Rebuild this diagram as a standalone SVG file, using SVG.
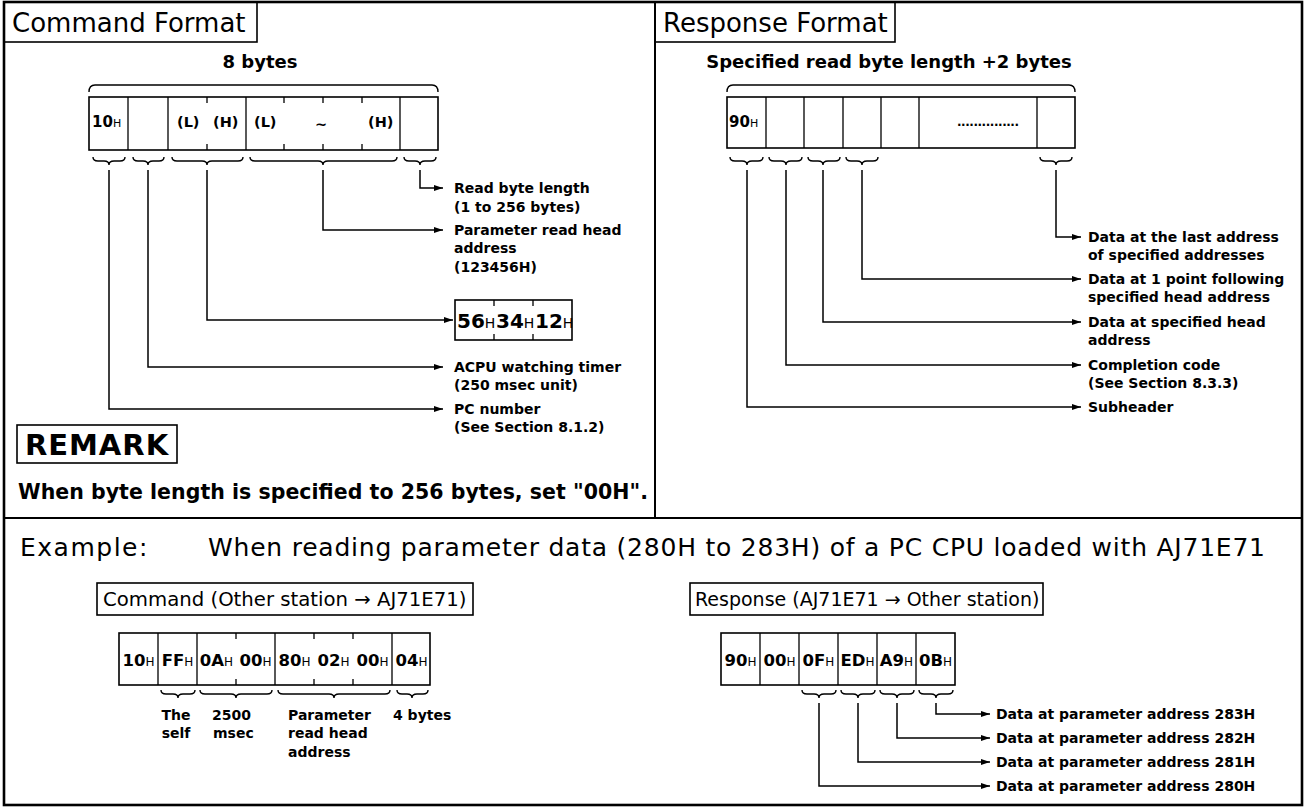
<svg xmlns="http://www.w3.org/2000/svg" width="1305" height="810" viewBox="0 0 1305 810">
<style>
text{font-family:"DejaVu Sans","Liberation Sans",sans-serif;fill:#000}
.title{font-size:26px}
.head{font-size:18px;font-weight:bold}
.lbl{font-size:14px;font-weight:bold}
.cell{font-size:15px;font-weight:bold}
.xcell{font-size:16.5px;font-weight:bold}
.par{font-size:14.5px;font-weight:bold}
.h{font-size:11px;font-weight:normal}
.xh{font-size:12px;font-weight:normal}
.big{font-size:20px;font-weight:bold}
.bh{font-size:14px;font-weight:normal}
.frame{fill:none;stroke:#000;stroke-width:1.6}
.tick{stroke:#000;stroke-width:1.3}
.brace{fill:none;stroke:#000;stroke-width:1.4}
.conn{fill:none;stroke:#000;stroke-width:1.5;marker-end:url(#ah)}
</style>
<defs>
<marker id="ah" markerUnits="userSpaceOnUse" markerWidth="9" markerHeight="6" refX="9" refY="3" orient="auto"><path d="M0,0 L9,3 L0,6 z" fill="#000"/></marker>
</defs>
<rect x="0" y="0" width="1305" height="810" fill="#fff"/>

<g id="frame">
<rect x="4" y="2" width="1298" height="803" fill="none" stroke="#000" stroke-width="2.6"/>
<line x1="655" y1="2" x2="655" y2="518" stroke="#000" stroke-width="2"/>
<line x1="4" y1="518" x2="1302" y2="518" stroke="#000" stroke-width="2"/>
</g>

<g id="command-format-title">
<rect x="4" y="2" width="253" height="40" class="frame" stroke-width="2"/>
<text x="12" y="32" class="title">Command Format</text>
</g>

<g id="command-bytes">
<text x="260" y="68" class="head" text-anchor="middle">8 bytes</text>
<path d="M89,92 Q89,85 95,85 H432 Q438,85 438,92" class="brace"/>
<rect x="89" y="97" width="349" height="53" class="frame"/>
<line x1="128" y1="97" x2="128" y2="150" class="tick"/>
<line x1="168" y1="97" x2="168" y2="150" class="tick"/>
<line x1="246" y1="97" x2="246" y2="150" class="tick"/>
<line x1="400" y1="97" x2="400" y2="150" class="tick"/>
<path d="M207,97 v6 M207,150 v-6 M284,97 v6 M284,150 v-6 M323,97 v6 M323,150 v-6 M362,97 v6 M362,150 v-6" class="tick"/>
<text x="92" y="127" class="cell">10<tspan class="h">H</tspan></text>
<text x="177" y="127" class="par">(L)</text>
<text x="213" y="127" class="par">(H)</text>
<text x="254" y="127" class="par">(L)</text>
<text x="321" y="129" class="par" text-anchor="middle">~</text>
<text x="368" y="127" class="par">(H)</text>
<path d="M93,157 Q93,161 98,161 H104 Q109,161 109,165 Q109,161 114,161 H120 Q125,161 125,157" class="brace"/>
<path d="M133,157 Q133,161 138,161 H143 Q148,161 148,165 Q148,161 153,161 H159 Q164,161 164,157" class="brace"/>
<path d="M172,157 Q172,161 177,161 H202 Q207,161 207,165 Q207,161 212,161 H238 Q243,161 243,157" class="brace"/>
<path d="M250,157 Q250,161 255,161 H318 Q323,161 323,165 Q323,161 328,161 H392 Q397,161 397,157" class="brace"/>
<path d="M404,157 Q404,161 409,161 H415 Q420,161 420,165 Q420,161 425,161 H431 Q436,161 436,157" class="brace"/>
</g>

<g id="command-labels">
<text x="454" y="193" class="lbl">Read byte length</text>
<text x="454" y="212" class="lbl">(1 to 256 bytes)</text>
<text x="454" y="235" class="lbl">Parameter read head</text>
<text x="454" y="253" class="lbl">address</text>
<text x="454" y="272" class="lbl">(123456H)</text>
<text x="454" y="372" class="lbl">ACPU watching timer</text>
<text x="454" y="390" class="lbl">(250 msec unit)</text>
<text x="454" y="414" class="lbl">PC number</text>
<text x="454" y="432" class="lbl">(See Section 8.1.2)</text>
</g>

<g id="address-bytes">
<rect x="455" y="300" width="117" height="40" class="frame"/>
<path d="M494,300 v6 M494,340 v-6 M533,300 v6 M533,340 v-6" class="tick"/>
<text x="457" y="328" class="big">56<tspan class="bh">H</tspan></text>
<text x="496" y="328" class="big">34<tspan class="bh">H</tspan></text>
<text x="535" y="328" class="big">12<tspan class="bh">H</tspan></text>
</g>

<g id="remark">
<rect x="17" y="425" width="160" height="38" class="frame" stroke-width="2"/>
<text x="97" y="455" text-anchor="middle" style="font-size:29px;font-weight:bold" letter-spacing="1">REMARK</text>
<text x="18" y="499" style="font-size:20.5px;font-weight:bold" textLength="630" lengthAdjust="spacing">When byte length is specified to 256 bytes, set "00H".</text>
</g>

<g id="response-format-title">
<rect x="655" y="2" width="240" height="40" class="frame" stroke-width="2"/>
<text x="663" y="32" class="title">Response Format</text>
</g>

<g id="response-bytes">
<text x="889" y="68" class="head" text-anchor="middle">Specified read byte length +2 bytes</text>
<path d="M727,92 Q727,85 733,85 H1069 Q1075,85 1075,92" class="brace"/>
<rect x="727" y="97" width="348" height="51" class="frame"/>
<path d="M766,97 V148 M804,97 V148 M843,97 V148 M881,97 V148 M919,97 V148 M1037,97 V148" class="tick"/>
<text x="729" y="127" class="cell">90<tspan class="h">H</tspan></text>
<text x="957" y="126" style="font-size:12px;font-weight:bold" textLength="62" lengthAdjust="spacing">...............</text>
<path d="M730,157 Q730,161 735,161 H742 Q747,161 747,165 Q747,161 752,161 H758 Q763,161 763,157" class="brace"/>
<path d="M769,157 Q769,161 774,161 H781 Q786,161 786,165 Q786,161 791,161 H797 Q802,161 802,157" class="brace"/>
<path d="M808,157 Q808,161 813,161 H818 Q823,161 823,165 Q823,161 828,161 H835 Q840,161 840,157" class="brace"/>
<path d="M846,157 Q846,161 851,161 H857 Q862,161 862,165 Q862,161 867,161 H873 Q878,161 878,157" class="brace"/>
<path d="M1040,157 Q1040,161 1045,161 H1051 Q1056,161 1056,165 Q1056,161 1061,161 H1067 Q1072,161 1072,157" class="brace"/>
</g>

<g id="response-labels">
<text x="1088" y="242" class="lbl">Data at the last address</text>
<text x="1088" y="260" class="lbl">of specified addresses</text>
<text x="1088" y="284" class="lbl">Data at 1 point following</text>
<text x="1088" y="302" class="lbl">specified head address</text>
<text x="1088" y="327" class="lbl">Data at specified head</text>
<text x="1088" y="345" class="lbl">address</text>
<text x="1088" y="370" class="lbl">Completion code</text>
<text x="1088" y="388" class="lbl">(See Section 8.3.3)</text>
<text x="1088" y="412" class="lbl">Subheader</text>
</g>

<g id="example-title">
<text x="20" y="556" style="font-size:25px" letter-spacing="1.5">Example:</text>
<text x="208" y="556" style="font-size:25px" textLength="1057" lengthAdjust="spacing">When reading parameter data (280H to 283H) of a PC CPU loaded with AJ71E71</text>
</g>

<g id="example-command">
<rect x="97" y="583" width="376" height="32" class="frame"/>
<text x="103" y="606" style="font-size:19.7px">Command (Other station → AJ71E71)</text>
<rect x="119" y="633" width="311" height="52" class="frame"/>
<path d="M158,633 V685 M197,633 V685 M275,633 V685 M392,633 V685" class="tick"/>
<path d="M236,633 v6 M236,685 v-6 M314,633 v6 M314,685 v-6 M353,633 v6 M353,685 v-6" class="tick"/>
<text y="666" class="xcell" text-anchor="middle"><tspan x="138.5">10<tspan class="xh">H</tspan></tspan><tspan x="177.5">FF<tspan class="xh">H</tspan></tspan><tspan x="216.5">0A<tspan class="xh">H</tspan></tspan><tspan x="255.5">00<tspan class="xh">H</tspan></tspan><tspan x="294.5">80<tspan class="xh">H</tspan></tspan><tspan x="333.5">02<tspan class="xh">H</tspan></tspan><tspan x="372.5">00<tspan class="xh">H</tspan></tspan><tspan x="411.5">04<tspan class="xh">H</tspan></tspan></text>
<path d="M161,690 Q161,694 166,694 H173 Q178,694 178,698 Q178,694 183,694 H190 Q195,694 195,690" class="brace"/>
<path d="M200,690 Q200,694 205,694 H231 Q236,694 236,698 Q236,694 241,694 H267 Q272,694 272,690" class="brace"/>
<path d="M278,690 Q278,694 283,694 H329 Q334,694 334,698 Q334,694 339,694 H385 Q390,694 390,690" class="brace"/>
<path d="M397,690 Q397,694 402,694 H407 Q412,694 412,698 Q412,694 417,694 H423 Q428,694 428,690" class="brace"/>
<text x="176" y="720" class="lbl" text-anchor="middle">The</text>
<text x="176" y="738" class="lbl" text-anchor="middle">self</text>
<text x="212" y="720" class="lbl">2500</text>
<text x="213" y="738" class="lbl">msec</text>
<text x="288" y="720" class="lbl">Parameter</text>
<text x="288" y="738" class="lbl">read head</text>
<text x="288" y="757" class="lbl">address</text>
<text x="393" y="720" class="lbl">4 bytes</text>
</g>

<g id="example-response">
<rect x="690" y="583" width="353" height="32" class="frame"/>
<text x="695" y="606" style="font-size:19px">Response (AJ71E71 → Other station)</text>
<rect x="721" y="633" width="234" height="52" class="frame"/>
<path d="M760,633 V685 M799,633 V685 M838,633 V685 M877,633 V685 M916,633 V685" class="tick"/>
<text y="666" class="xcell" text-anchor="middle"><tspan x="740.5">90<tspan class="xh">H</tspan></tspan><tspan x="779.5">00<tspan class="xh">H</tspan></tspan><tspan x="818.5">0F<tspan class="xh">H</tspan></tspan><tspan x="857.5">ED<tspan class="xh">H</tspan></tspan><tspan x="896.5">A9<tspan class="xh">H</tspan></tspan><tspan x="935.5">0B<tspan class="xh">H</tspan></tspan></text>
<path d="M802,690 Q802,694 807,694 H814 Q819,694 819,698 Q819,694 824,694 H831 Q836,694 836,690" class="brace"/>
<path d="M841,690 Q841,694 846,694 H853 Q858,694 858,698 Q858,694 863,694 H870 Q875,694 875,690" class="brace"/>
<path d="M880,690 Q880,694 885,694 H892 Q897,694 897,698 Q897,694 902,694 H909 Q914,694 914,690" class="brace"/>
<path d="M919,690 Q919,694 924,694 H931 Q936,694 936,698 Q936,694 941,694 H948 Q953,694 953,690" class="brace"/>
<text x="996" y="719" class="lbl">Data at parameter address 283H</text>
<text x="996" y="743" class="lbl">Data at parameter address 282H</text>
<text x="996" y="767" class="lbl">Data at parameter address 281H</text>
<text x="996" y="791" class="lbl">Data at parameter address 280H</text>
</g>

<g id="connectors">
<path d="M420,170 V188 H443" class="conn"/>
<path d="M323,170 V230 H443" class="conn"/>
<path d="M207,170 V320 H453" class="conn"/>
<path d="M148,170 V367 H443" class="conn"/>
<path d="M109,170 V409 H443" class="conn"/>
<path d="M1056,170 V237 H1081" class="conn"/>
<path d="M862,170 V279 H1081" class="conn"/>
<path d="M823,170 V322 H1081" class="conn"/>
<path d="M786,170 V365 H1081" class="conn"/>
<path d="M747,170 V407 H1081" class="conn"/>
<path d="M936,703 V714 H990" class="conn"/>
<path d="M897,703 V738 H990" class="conn"/>
<path d="M858,703 V762 H990" class="conn"/>
<path d="M819,703 V786 H990" class="conn"/>
</g>
</svg>
